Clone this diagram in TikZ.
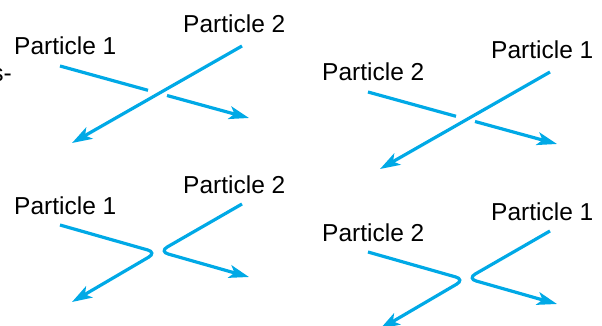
\documentclass[tikz,border=0pt]{standalone}
\usepackage{fontspec}
\setmainfont{Liberation Sans}
\usetikzlibrary{arrows.meta}
\definecolor{ptblue}{RGB}{0,169,230}
\tikzset{
  lbl/.style={anchor=base west,inner sep=0pt,font=\fontsize{24.5}{29}\selectfont,text=black},
  track/.style={draw=ptblue,line width=3.2pt},
  trackarr/.style={track,-{Stealth[length=20pt,width=13pt,inset=5pt]}},
  bent/.style={track,rounded corners=9pt,-{Stealth[length=20pt,width=13pt,inset=5pt]}}
}
\begin{document}
\begin{tikzpicture}[x=1pt,y=-1pt]
\useasboundingbox (0,0) rectangle (602,326);
% cropped fragment at left edge
\node[anchor=base east,inner sep=0pt,font=\fontsize{24.5}{29}\selectfont] (frag) at (12,82) {s-};
% ---------- top panels (crossing) ----------
\foreach \dx/\dy/\la/\lb [count=\i] in {0/0/1/2, 308/26/2/1}{
  \begin{scope}[shift={(\dx,\dy)}]
    \node[lbl] (ta\i) at (14,55) {Particle \la};
    \node[lbl] (tb\i) at (183,33) {Particle \lb};
    \coordinate (as\i) at (60,66);
    \coordinate (ag\i) at (148,90.3);
    \coordinate (ah\i) at (167,95.5);
    \coordinate (ae\i) at (249,118);
    \coordinate (bs\i) at (242,46);
    \coordinate (be\i) at (72,143);
    \draw[track] (as\i) -- (ag\i);
    \draw[trackarr] (ah\i) -- (ae\i);
    \draw[trackarr] (bs\i) -- (be\i);
  \end{scope}
}
% ---------- bottom panels (bounce) ----------
\foreach \dx/\dy/\la/\lb [count=\i] in {0/159/1/2, 308/186/2/1}{
  \begin{scope}[shift={(\dx,\dy)}]
    \node[lbl] (ba\i) at (14,55) {Particle \la};
    \node[lbl] (bb\i) at (183,34) {Particle \lb};
    \coordinate (cs\i) at (60,66);
    \coordinate (cc\i) at (156.6,93.5);
    \coordinate (ce\i) at (72,143);
    \coordinate (ds\i) at (242,45);
    \coordinate (dc\i) at (159.4,92.5);
    \coordinate (de\i) at (249,118);
    \draw[bent] (cs\i) -- (cc\i) -- (ce\i);
    \draw[bent] (ds\i) -- (dc\i) -- (de\i);
  \end{scope}
}
\end{tikzpicture}
\end{document}
